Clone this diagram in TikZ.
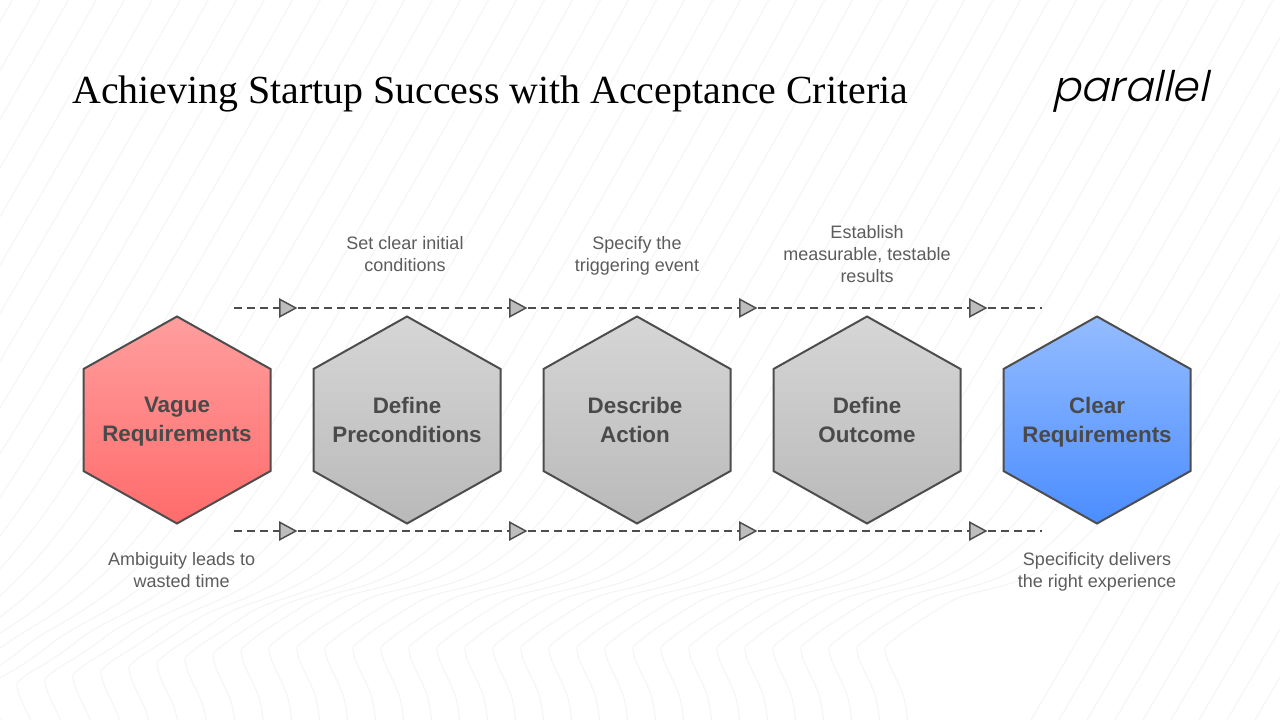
\documentclass[tikz,border=0pt]{standalone}
\usepackage{fontspec}
\setmainfont{Liberation Sans}
\newfontfamily\titlefont{Liberation Serif}
\newfontfamily\logofont[FakeSlant=0.22]{Poppins Light}
\usetikzlibrary{shapes.geometric}
\definecolor{edgegray}{HTML}{4D4D4D}
\definecolor{textgray}{HTML}{5C5C5C}
\definecolor{boldgray}{HTML}{4A4A4A}
\definecolor{bgline}{HTML}{F4F4F4}
\definecolor{redtop}{HTML}{FF9E9E}
\definecolor{redbot}{HTML}{FF6B6B}
\definecolor{graytop}{HTML}{D6D6D6}
\definecolor{graybot}{HTML}{B9B9B9}
\definecolor{bluetop}{HTML}{94BCFF}
\definecolor{bluebot}{HTML}{4B8DFF}
\newcommand{\hexagon}[2]{\path[#2,shift={(#1)}] (0,-103.5) -- (93.5,-51) -- (93.5,51) -- (0,103.5) -- (-93.5,51) -- (-93.5,-51) -- cycle;}
\tikzset{
 hexbase/.style={draw=edgegray,line width=1.5pt,line join=miter},
 hexred/.style={hexbase,top color=redtop,bottom color=redbot},
 hexgray/.style={hexbase,top color=graytop,bottom color=graybot},
 hexblue/.style={hexbase,top color=bluetop,bottom color=bluebot},
 hextext/.style={align=center,text=boldgray,font=\fontsize{16.8}{21.8}\selectfont\bfseries,
   execute at begin node=\strut,execute at end node=\strut},
 steptext/.style={align=center,text=textgray,font=\fontsize{13.5}{16.5}\selectfont,
   execute at begin node=\strut,execute at end node=\strut},
 flowtip/.style={isosceles triangle,isosceles triangle stretches,shape border rotate=0,
   minimum width=13pt,minimum height=12pt,inner sep=0pt,draw=edgegray,line width=1.1pt,fill=black!26},
 flowline/.style={draw=edgegray,line width=1.5pt,dash pattern=on 6pt off 3.8pt},
 wave/.style={draw=bgline,line width=0.7pt}
}
\begin{document}
\begin{tikzpicture}[x=0.75pt,y=-0.75pt,node distance=172.5pt]
 \useasboundingbox (0,0) rectangle (1280,720);
 \fill[white] (0,0) rectangle (1280,720);

 % background lines
 \begin{scope}
 \clip (0,0) rectangle (1280,720);
 \foreach \x in {-520,-492,...,920} {
   \pgfmathsetmacro\dy{max(0,(280-\x)*0.15)}
   \draw[wave] plot[smooth,tension=0.6] coordinates {(\x,725+\dy) (\x-5,695+\dy) (\x-22,655+\dy) (\x-15,640+\dy) (\x+40,603+\dy) (\x+210,500) (\x+510,-10)};
 }
 \foreach \x in {948,976,...,1280}
   \draw[wave] (\x+80,725) -- (\x+510,-10);
 \end{scope}

 % hexagons
 \coordinate (C1) at (177,420);
 \coordinate (C2) at (407,420);
 \coordinate (C3) at (637,420);
 \coordinate (C4) at (867,420);
 \coordinate (C5) at (1097,420);
 \hexagon{C1}{hexred}
 \hexagon{C2}{hexgray}
 \hexagon{C3}{hexgray}
 \hexagon{C4}{hexgray}
 \hexagon{C5}{hexblue}

 \node (vague) [hextext] at (177,424) {Vague\\Requirements};
 \node (precond) [hextext,right of=vague] {Define\\Preconditions};
 \node (action) [hextext,right of=precond,xshift=-1.5pt] {Describe\\Action};
 \node (outcome) [hextext,right of=action,xshift=1.5pt] {Define\\Outcome};
 \node (clear) [hextext,right of=outcome] {Clear\\Requirements};

 % labels
 \node (ambig) [steptext,below of=vague,node distance=111.75pt,xshift=3.5pt] {Ambiguity leads to\\wasted time};
 \node (setclear) [steptext,above of=precond,node distance=125.25pt,xshift=-1.5pt] {Set clear initial\\conditions};
 \node (specify) [steptext,above of=action,node distance=125.25pt,xshift=1.5pt] {Specify the\\triggering event};
 \node (establish) [steptext,above of=outcome,node distance=125.25pt] {Establish\\measurable, testable\\results};
 \node (deliver) [steptext,below of=clear,node distance=111.75pt] {Specificity delivers\\the right experience};

 % dashed flows
 \coordinate (TS) at (234,308);
 \coordinate (TE) at (1042,308);
 \coordinate (BS) at (234,531);
 \coordinate (BE) at (1042,531);
 \foreach \n/\xp in {1/285,2/515,3/745,4/975} {
   \node (T\n) [flowtip] at (\xp,308) {};
   \node (B\n) [flowtip] at (\xp,531) {};
 }
 \draw[flowline] (TS) -- (T1);
 \draw[flowline] (T1) -- (T2);
 \draw[flowline] (T2) -- (T3);
 \draw[flowline] (T3) -- (T4);
 \draw[flowline] (T4) -- (TE);
 \draw[flowline] (BS) -- (B1);
 \draw[flowline] (B1) -- (B2);
 \draw[flowline] (B2) -- (B3);
 \draw[flowline] (B3) -- (B4);
 \draw[flowline] (B4) -- (BE);

 % header
 \node (title) [anchor=west,inner sep=0pt,font=\fontsize{29.9}{34}\titlefont] at (72,94) {Achieving Startup Success with Acceptance Criteria};
 \node (logo) [anchor=east,inner sep=0pt,font=\fontsize{31.6}{36}\logofont] at (1208,91) {parallel};
\end{tikzpicture}
\end{document}
